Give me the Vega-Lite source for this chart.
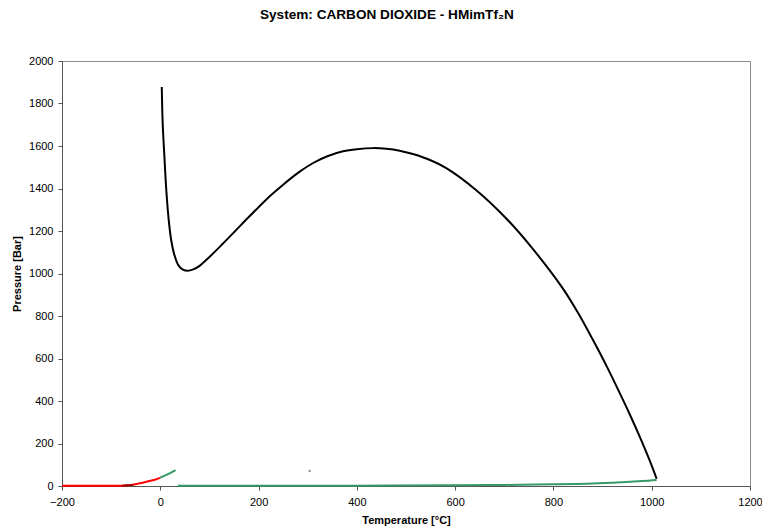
{
  "$schema": "https://vega.github.io/schema/vega-lite/v6.json",
  "width": 688,
  "height": 425,
  "autosize": {"type": "none"},
  "padding": {"left": 62, "top": 61, "right": 12, "bottom": 45},
  "background": "white",
  "title": {
    "text": "System: CARBON DIOXIDE - HMimTf₂N",
    "font": "Liberation Sans",
    "fontSize": 13.6,
    "fontWeight": "bold",
    "color": "black",
    "anchor": "middle",
    "frame": "bounds",
    "offset": 33
  },
  "config": {
    "view": {"stroke": "#8c8c8c", "strokeWidth": 1},
    "axis": {
      "labelFont": "Liberation Sans",
      "labelFontSize": 11,
      "labelColor": "black",
      "titleFont": "Liberation Sans",
      "titleFontSize": 11,
      "titleFontWeight": "bold",
      "titleColor": "black",
      "domainColor": "#555555",
      "tickColor": "#555555",
      "tickSize": 4,
      "grid": false
    }
  },
  "data": {
    "values": [
      {"series": "LLV", "i": 1, "T": 3, "P": 1878},
      {"series": "LLV", "i": 2, "T": 5, "P": 1700},
      {"series": "LLV", "i": 3, "T": 8.5, "P": 1545},
      {"series": "LLV", "i": 4, "T": 12, "P": 1400},
      {"series": "LLV", "i": 5, "T": 17, "P": 1255},
      {"series": "LLV", "i": 6, "T": 22, "P": 1160},
      {"series": "LLV", "i": 7, "T": 29, "P": 1085},
      {"series": "LLV", "i": 8, "T": 37, "P": 1038},
      {"series": "LLV", "i": 9, "T": 46, "P": 1018},
      {"series": "LLV", "i": 10, "T": 56, "P": 1013},
      {"series": "LLV", "i": 11, "T": 66, "P": 1018},
      {"series": "LLV", "i": 12, "T": 80, "P": 1036},
      {"series": "LLV", "i": 13, "T": 100, "P": 1078},
      {"series": "LLV", "i": 14, "T": 125, "P": 1135},
      {"series": "LLV", "i": 15, "T": 150, "P": 1194},
      {"series": "LLV", "i": 16, "T": 175, "P": 1254},
      {"series": "LLV", "i": 17, "T": 200, "P": 1312},
      {"series": "LLV", "i": 18, "T": 225, "P": 1368},
      {"series": "LLV", "i": 19, "T": 250, "P": 1418},
      {"series": "LLV", "i": 20, "T": 283, "P": 1478},
      {"series": "LLV", "i": 21, "T": 311, "P": 1520},
      {"series": "LLV", "i": 22, "T": 340, "P": 1552},
      {"series": "LLV", "i": 23, "T": 372, "P": 1575},
      {"series": "LLV", "i": 24, "T": 400, "P": 1585},
      {"series": "LLV", "i": 25, "T": 433, "P": 1590},
      {"series": "LLV", "i": 26, "T": 460, "P": 1587},
      {"series": "LLV", "i": 27, "T": 487, "P": 1578},
      {"series": "LLV", "i": 28, "T": 514, "P": 1562},
      {"series": "LLV", "i": 29, "T": 550, "P": 1533},
      {"series": "LLV", "i": 30, "T": 582, "P": 1496},
      {"series": "LLV", "i": 31, "T": 643, "P": 1392},
      {"series": "LLV", "i": 32, "T": 704, "P": 1259},
      {"series": "LLV", "i": 33, "T": 758, "P": 1116},
      {"series": "LLV", "i": 34, "T": 819, "P": 930},
      {"series": "LLV", "i": 35, "T": 850, "P": 815},
      {"series": "LLV", "i": 36, "T": 880, "P": 689},
      {"series": "LLV", "i": 37, "T": 910, "P": 556},
      {"series": "LLV", "i": 38, "T": 935, "P": 437},
      {"series": "LLV", "i": 39, "T": 955, "P": 339},
      {"series": "LLV", "i": 40, "T": 976, "P": 230},
      {"series": "LLV", "i": 41, "T": 995, "P": 125},
      {"series": "LLV", "i": 42, "T": 1010, "P": 34},
      {"series": "CO2 VLE low", "i": 1, "T": -200, "P": 1},
      {"series": "CO2 VLE low", "i": 2, "T": -150, "P": 1},
      {"series": "CO2 VLE low", "i": 3, "T": -100, "P": 1.2},
      {"series": "CO2 VLE low", "i": 4, "T": -70, "P": 2.5},
      {"series": "CO2 VLE low", "i": 5, "T": -56, "P": 6},
      {"series": "CO2 VLE low", "i": 6, "T": -49, "P": 9},
      {"series": "CO2 VLE low", "i": 7, "T": -38, "P": 14},
      {"series": "CO2 VLE low", "i": 8, "T": -28.5, "P": 20},
      {"series": "CO2 VLE low", "i": 9, "T": -18, "P": 26},
      {"series": "CO2 VLE low", "i": 10, "T": -8, "P": 32},
      {"series": "CO2 VLE low", "i": 11, "T": 0, "P": 38},
      {"series": "CO2 SV", "i": 1, "T": -78, "P": 1.5},
      {"series": "CO2 SV", "i": 2, "T": -66, "P": 3},
      {"series": "CO2 SV", "i": 3, "T": -55, "P": 5},
      {"series": "CO2 VLE high", "i": 1, "T": 0, "P": 40},
      {"series": "CO2 VLE high", "i": 2, "T": 10, "P": 50},
      {"series": "CO2 VLE high", "i": 3, "T": 20, "P": 61},
      {"series": "CO2 VLE high", "i": 4, "T": 31, "P": 75},
      {"series": "IL", "i": 1, "T": 36, "P": 1},
      {"series": "IL", "i": 2, "T": 200, "P": 1.2},
      {"series": "IL", "i": 3, "T": 400, "P": 1.5},
      {"series": "IL", "i": 4, "T": 600, "P": 3},
      {"series": "IL", "i": 5, "T": 700, "P": 5},
      {"series": "IL", "i": 6, "T": 800, "P": 8},
      {"series": "IL", "i": 7, "T": 880, "P": 12},
      {"series": "IL", "i": 8, "T": 940, "P": 18},
      {"series": "IL", "i": 9, "T": 980, "P": 23},
      {"series": "IL", "i": 10, "T": 1010, "P": 28},
      {"series": "dot", "i": 1, "T": 304, "P": 71}
    ]
  },
  "layer": [
    {
      "transform": [{"filter": "datum.series != 'dot'"}],
      "mark": {"type": "line", "strokeWidth": 2, "interpolate": "catmull-rom"},
      "encoding": {
        "x": {
          "field": "T", "type": "quantitative",
          "scale": {"domain": [-200, 1200], "nice": false, "zero": false},
          "axis": {"values": [-200, 0, 200, 400, 600, 800, 1000, 1200], "format": "d", "title": "Temperature [°C]", "labelPadding": 6, "titlePadding": 7, "labelFlush": false}
        },
        "y": {
          "field": "P", "type": "quantitative",
          "scale": {"domain": [0, 2000], "nice": false},
          "axis": {"values": [0, 200, 400, 600, 800, 1000, 1200, 1400, 1600, 1800, 2000], "format": "d", "title": "Pressure [Bar]", "labelPadding": 5, "titlePadding": 6, "labelFlush": false}
        },
        "color": {
          "field": "series", "type": "nominal",
          "scale": {
            "domain": ["LLV", "CO2 VLE low", "CO2 SV", "CO2 VLE high", "IL"],
            "range": ["#000000", "#ff0000", "#9a0000", "#339966", "#339966"]
          },
          "legend": null
        },
        "detail": {"field": "series"},
        "order": {"field": "i", "type": "quantitative"}
      }
    },
    {
      "transform": [{"filter": "datum.series == 'dot'"}],
      "mark": {"type": "square", "size": 5, "color": "#999999", "opacity": 1, "filled": true},
      "encoding": {
        "x": {"field": "T", "type": "quantitative"},
        "y": {"field": "P", "type": "quantitative"}
      }
    }
  ]
}
